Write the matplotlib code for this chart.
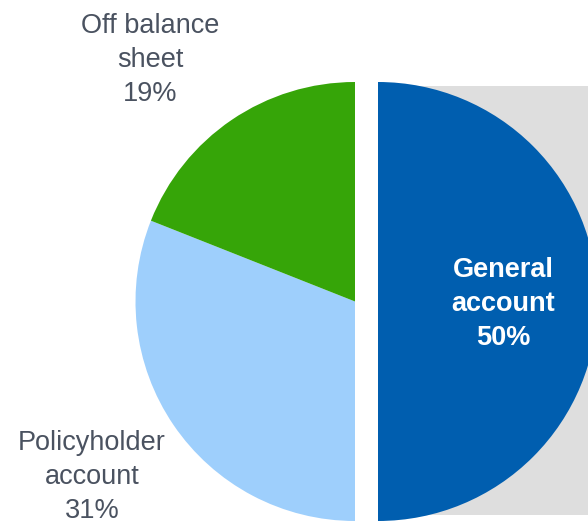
import matplotlib
matplotlib.use("Agg")
import matplotlib.pyplot as plt
from matplotlib.patches import Rectangle

# Asset split
categories = ["General\naccount", "Policyholder\naccount", "Off balance\nsheet"]
shares = [50, 31, 19]
colors = ["#005EAF", "#9ECFFC", "#36A508"]

W, H = 588, 524
fig = plt.figure(figsize=(W / 100, H / 100), dpi=100)
ax = fig.add_axes([0, 0, 1, 1])

cx, cy, r = 355, H - 301.5, 219.5

# grey backdrop behind the highlighted slice
ax.add_patch(Rectangle((380, H - 515), 240, 429, facecolor="#DEDEDE",
                       edgecolor="none", zorder=0))

# explode offset is in data units here (pixels)
wedges, _ = ax.pie(shares, colors=colors, startangle=90, counterclock=False,
                   radius=r, center=(cx, cy), explode=[23, 0, 0],
                   wedgeprops=dict(linewidth=0, zorder=2))

ax.set_xlim(0, W)
ax.set_ylim(0, H)
ax.set_aspect("equal")
ax.axis("off")

font = ["Liberation Sans", "DejaVu Sans"]
label_pos = [(503, H - 304), (92, H - 477), (150, H - 60)]
for i, (name, val, (x, y)) in enumerate(zip(categories, shares, label_pos)):
    txt = f"{name}\n{val}%"
    if i == 0:
        ax.text(x, y, txt, ha="center", va="center", color="white",
                fontsize=19.5, fontweight="bold", family=font,
                linespacing=1.38, zorder=3)
    else:
        ax.text(x, y, txt, ha="center", va="center", color="#4A5260",
                fontsize=19.5, family=font, linespacing=1.38, zorder=3)

fig.savefig("out.png", dpi=100)
